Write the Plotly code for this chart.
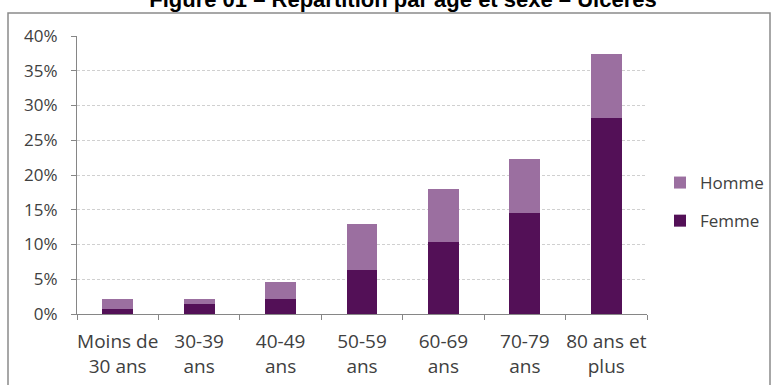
import plotly.graph_objects as go

categories = ["Moins de<br>30 ans", "30-39<br>ans", "40-49<br>ans", "50-59<br>ans",
              "60-69<br>ans", "70-79<br>ans", "80 ans et<br>plus"]
femme = [0.007, 0.0145, 0.021, 0.063, 0.104, 0.145, 0.282]
homme = [0.014, 0.0065, 0.0245, 0.066, 0.076, 0.078, 0.092]
y_ticks = [0, 0.05, 0.10, 0.15, 0.20, 0.25, 0.30, 0.35, 0.40]

W, H = 773, 385
ML, MR, MT, MB = 77, 126, 36, 71
PW, PH = W - ML - MR, H - MT - MB

def px_x(px):
    return (px - ML) / PW

def px_y(py):
    return (H - MB - py) / PH

FONT = "Open Sans"
FS = 17
FRAME = "#8a8a8a"

fig = go.Figure()
fig.add_trace(go.Bar(x=categories, y=femme, name="Femme", marker_color="#531057",
                     marker_line_width=0, legendrank=2, legendgroup="f"))
fig.add_trace(go.Bar(x=categories, y=homme, name="Homme", marker_color="#9B6FA0",
                     marker_line_width=0, legendrank=1, legendgroup="h"))

fig.update_layout(
    width=W, height=H,
    margin=dict(l=ML, r=MR, t=MT, b=MB, pad=0, autoexpand=False),
    barmode="stack", bargap=0.62,
    paper_bgcolor="white", plot_bgcolor="white",
    font=dict(family=FONT, size=FS, color="#404040"),
    title=dict(text="<b>Figure 01 – Répartition par âge et sexe – Ulcères</b>",
               x=403 / W, xanchor="center", y=(H - 7) / H, yref="container", yanchor="bottom",
               font=dict(family="Liberation Sans", size=22, color="#000000")),
    legend=dict(traceorder="grouped", x=px_x(660), xanchor="left", y=px_y(202),
                yanchor="middle", font=dict(family=FONT, size=FS, color="#404040"),
                itemwidth=30, tracegroupgap=13, bgcolor="rgba(0,0,0,0)"),
    showlegend=True,
    xaxis=dict(showline=True, linecolor="#868686", linewidth=1, ticks="outside",
               tickson="boundaries", ticklen=5, tickcolor="#868686", tickangle=0,
               showgrid=False, tickfont=dict(size=19), ticklabelstandoff=10),
    yaxis=dict(range=[0, 0.40], tickvals=y_ticks, tickformat=".0%",
               showline=True, linecolor="#868686", linewidth=1, ticks="outside",
               ticklen=5, tickcolor="#868686", showgrid=True, gridcolor="#d0d0d0",
               griddash="3px,2px", gridwidth=1, zeroline=False, tickfont=dict(size=FS),
               ticklabelstandoff=10),
    shapes=[dict(type="rect", xref="paper", yref="paper",
                 x0=px_x(8), x1=px_x(770), y0=px_y(390), y1=px_y(13),
                 line=dict(color=FRAME, width=1.5), fillcolor="rgba(0,0,0,0)",
                 layer="above")],
)

fig.write_html("out.html", config={"displayModeBar": False},
               post_script="document.body.style.margin='0';document.body.style.overflow='hidden';")
